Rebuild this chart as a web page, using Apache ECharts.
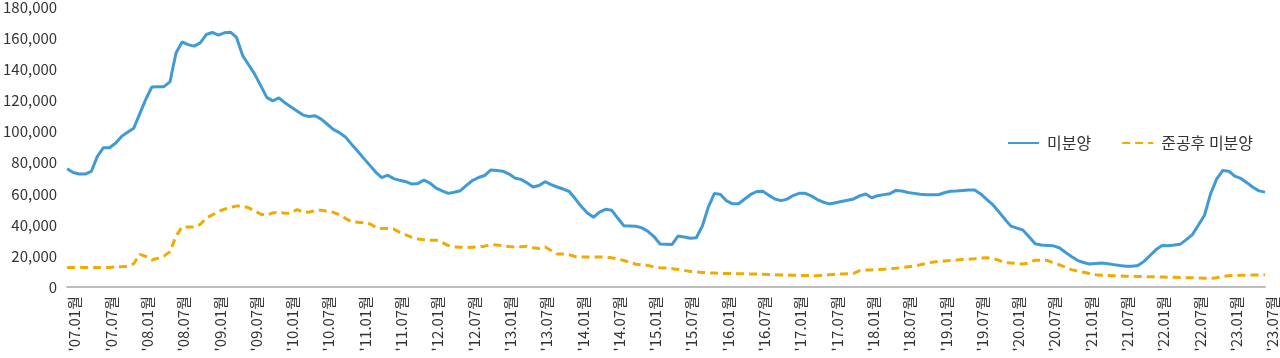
<!DOCTYPE html>
<html>
<head>
<meta charset="utf-8">
<script src="https://cdn.jsdelivr.net/npm/echarts@6/dist/echarts.min.js"></script>
<style>
html,body{margin:0;padding:0;background:#fff;}
#chart{width:1280px;height:358px;}
</style>
</head>
<body>
<div id="chart"></div>
<script>
// Months '07.01 .. '23.07 (199 monthly categories)
const startYear = 7, endYear = 23, endMonth = 7;
const categories = [];
for (let y = startYear; y <= endYear; y++) {
  for (let m = 1; m <= 12; m++) {
    if (y === endYear && m > endMonth) break;
    categories.push("'" + String(y).padStart(2, '0') + '.' + String(m).padStart(2, '0') + '월');
  }
}

const seriesNames = ['미분양', '준공후 미분양'];

// 미분양 (unsold housing)
const unsold = [
  76100, 73700, 72800, 72700, 74400, 84100, 89700, 89700, 92600, 97000,
  99700, 102200, 111500, 120800, 128800, 128900, 129000, 132100, 150700, 157800,
  156100, 155100, 157200, 162600, 163900, 162200, 163700, 164100, 160700, 149200,
  143100, 137100, 129700, 122100, 119900, 121800, 118600, 116000, 113300, 110700,
  109800, 110300, 108100, 104800, 101500, 99400, 96600, 92000, 87600, 83000,
  78500, 74000, 70500, 72000, 69800, 68700, 67800, 66300, 66700, 68800,
  66800, 63700, 61900, 60300, 61000, 62000, 65400, 68600, 70500, 71800,
  75300, 75000, 74600, 72900, 70200, 69300, 67100, 64400, 65400, 67800,
  66000, 64400, 63100, 61500, 56800, 51800, 47600, 44900, 48200, 50000,
  49500, 44400, 39500, 39300, 39100, 38100, 35900, 32500, 27700, 27600,
  27400, 32900, 32200, 31400, 31700, 39300, 51600, 60300, 59600, 55400,
  53600, 53600, 56700, 59600, 61500, 61700, 59000, 56700, 55600, 56600,
  58900, 60300, 60300, 58700, 56300, 54600, 53500, 54300, 55100, 55900,
  56700, 58700, 59900, 57500, 58800, 59500, 60100, 62200, 61800, 60900,
  60300, 59700, 59400, 59400, 59400, 60700, 61700, 61900, 62200, 62400,
  62500, 59900, 56400, 53000, 48500, 43700, 39200, 37900, 36600, 32300,
  27900, 27100, 26800, 26500, 25300, 22400, 19700, 17200, 15800, 14800,
  15200, 15500, 15000, 14400, 13800, 13300, 13300, 13800, 16500, 20300,
  24100, 26700, 26500, 27000, 27600, 30500, 33700, 39900, 46200, 60000,
  69500, 75000, 74600, 71400, 69900, 67200, 64200, 61900, 61100
];

// 준공후 미분양 (unsold after completion)
const unsoldCompleted = [
  12600, 12600, 12600, 12600, 12600, 12600, 12600, 12600, 12900, 13100,
  13300, 15000, 21000, 19700, 17400, 18500, 19900, 22800, 32700, 38700,
  38700, 38700, 40300, 44400, 46400, 48700, 50100, 51300, 52100, 52100,
  51000, 49000, 46900, 46300, 47700, 48300, 47500, 47600, 49800, 48300,
  48200, 49200, 49500, 48700, 48100, 46500, 44200, 42000, 41700, 41400,
  40700, 38500, 37600, 37600, 37300, 35200, 33600, 31900, 30900, 30400,
  30100, 30100, 28700, 26700, 25800, 25600, 25400, 25600, 25800, 26300,
  27200, 27100, 26500, 26100, 25800, 26000, 26200, 25300, 24800, 25800,
  23500, 21200, 21200, 20700, 19600, 19400, 19400, 19400, 19400, 19200,
  18800, 18100, 17100, 15900, 14700, 14200, 13900, 12900, 12400, 12200,
  11800, 11300, 10700, 10000, 9700, 9400, 9100, 9000, 8800, 8700,
  8600, 8500, 8500, 8400, 8300, 8200, 8100, 7900, 7800, 7700,
  7600, 7500, 7400, 7300, 7300, 7600, 7900, 8200, 8400, 8600,
  8800, 10500, 10900, 11000, 11300, 11500, 11800, 12100, 12500, 13000,
  13500, 14300, 15200, 16000, 16500, 16800, 17100, 17400, 17700, 17900,
  18200, 18600, 18900, 18500, 17200, 15700, 15500, 15200, 14800, 15500,
  17300, 17300, 17100, 15600, 14300, 12900, 11200, 10300, 9500, 8700,
  7900, 7600, 7400, 7200, 7100, 7000, 6900, 6800, 6700, 6600,
  6500, 6400, 6300, 6200, 6100, 6000, 5900, 5800, 5700, 5600,
  6000, 6800, 7300, 7400, 7500, 7600, 7700, 7800, 7900
];

const yTicks = [0, 20000, 40000, 60000, 80000, 100000, 120000, 140000, 160000, 180000];

const FONT = '"Noto Sans CJK KR", "Noto Sans", sans-serif';
const chart = echarts.init(document.getElementById('chart'), null, {renderer: 'canvas'});
chart.setOption({
  animation: false,
  backgroundColor: '#ffffff',
  grid: {left: 67, right: 7, top: 6, bottom: 71, containLabel: false},
  legend: {
    left: 1002,
    top: 130,
    itemWidth: 31,
    itemHeight: 14,
    itemGap: 30,
    itemStyle: {opacity: 0},
    textStyle: {fontFamily: FONT, fontSize: 16, color: '#333', padding: [0, 0, 0, 3]},
    data: seriesNames
  },
  xAxis: {
    type: 'category',
    data: categories,
    boundaryGap: false,
    axisLine: {lineStyle: {color: '#bdbdbd', width: 2}},
    axisTick: {show: false},
    splitLine: {show: false},
    axisLabel: {
      interval: 5,
      rotate: 90,
      margin: 9,
      verticalAlign: 'top',
      fontFamily: FONT,
      fontSize: 15,
      color: '#333'
    }
  },
  yAxis: {
    type: 'value',
    min: yTicks[0],
    max: yTicks[yTicks.length - 1],
    interval: yTicks[1] - yTicks[0],
    axisLine: {show: false},
    axisTick: {show: false},
    splitLine: {show: false},
    axisLabel: {
      margin: 10,
      fontFamily: FONT,
      fontSize: 15,
      color: '#333',
      formatter: v => v.toLocaleString('en-US')
    }
  },
  series: [
    {
      name: seriesNames[0],
      type: 'line',
      data: unsold,
      symbol: 'none',
      color: '#409ad5',
      lineStyle: {color: '#409ad5', width: 3},
      z: 3
    },
    {
      name: seriesNames[1],
      type: 'line',
      data: unsoldCompleted,
      symbol: 'none',
      color: '#f0ab00',
      lineStyle: {color: '#f0ab00', width: 3, type: [8, 5]},
      z: 2
    }
  ]
});
</script>
</body>
</html>
